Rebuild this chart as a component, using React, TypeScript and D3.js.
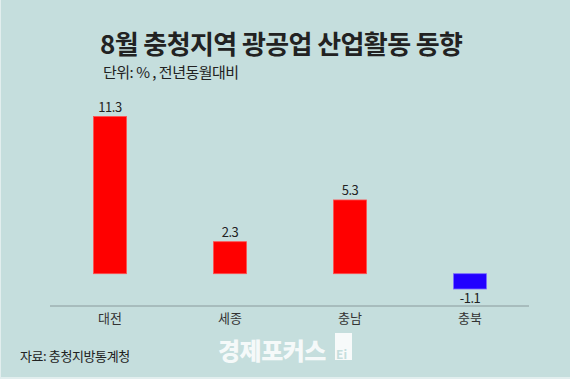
import React from "react";
import * as d3 from "d3";

const categories = ["대전", "세종", "충남", "충북"];
const values = [11.3, 2.3, 5.3, -1.1];
const titleText = "8월 충청지역 광공업 산업활동 동향";
const subtitleText = "단위: % , 전년동월대비";
const sourceText = "자료: 충청지방통계청";
const watermark = "경제포커스";

const W = 570;
const H = 379;
const FONT = "'Noto Sans CJK KR', 'Noto Sans', sans-serif";

export default function App() {
  const x = d3.scaleBand<string>().domain(categories).range([50, 530]).paddingInner(0.725).paddingOuter(0.3625);
  const y = d3.scaleLinear().domain([-1.1, 11.3]).range([289, 116.5]);
  const zero = y(0);
  return (
    <div style={{ position: "absolute", left: 0, top: 0 }}>
      <svg width={W} height={H} style={{ display: "block" }}>
        <rect x={0} y={0} width={W} height={H} fill="#e2eeee" />
        <rect x={1} y={0} width={W - 1} height={H - 2} fill="#c5dedd" />
        <text x={100} y={54} fontFamily={FONT} fontWeight={700} fontSize={26} fill="#222" letterSpacing={-0.6}>
          {titleText}
        </text>
        <text x={103} y={78} fontFamily={FONT} fontSize={15} fill="#222" letterSpacing={-0.5}>
          {subtitleText}
        </text>
        {categories.map((c, i) => {
          const v = values[i];
          const x0 = x(c)!;
          const yTop = v >= 0 ? y(v) : zero;
          const h = Math.abs(y(v) - zero);
          const color = v >= 0 ? "#ff0000" : "#2200ff";
          const labelY = v >= 0 ? y(v) - 5 : y(v) + 14;
          return (
            <g key={c}>
              <rect x={x0} y={yTop} width={x.bandwidth()} height={h} fill={color} stroke={v >= 0 ? "#ff5050" : "#7a6bff"} strokeWidth={0.8} />
              <text x={x0 + x.bandwidth() / 2} y={labelY} textAnchor="middle" fontFamily={FONT} fontSize={13} fill="#222" letterSpacing={-0.5}>
                {v.toFixed(1)}
              </text>
              <text x={x0 + x.bandwidth() / 2} y={323} textAnchor="middle" fontFamily={FONT} fontSize={13} fill="#333">
                {c}
              </text>
            </g>
          );
        })}
        <line x1={50} x2={529} y1={306} y2={306} stroke="#8a9a9c" strokeWidth={1} />
        <text x={20} y={361} fontFamily={FONT} fontSize={13} fill="#222" letterSpacing={-0.4}>
          {sourceText}
        </text>
        <text x={218} y={360} fontFamily={FONT} fontWeight={900} fontSize={24} fill="#ffffff" fillOpacity={0.85} letterSpacing={-0.5}>
          {watermark}
        </text>
        <rect x={335} y={333} width={17} height={27} fill="#ffffff" fillOpacity={0.85} />
        <text x={336} y={359} fontFamily={FONT} fontWeight={700} fontSize={12} fill="#c5dedd">
          Ei
        </text>
      </svg>
    </div>
  );
}
